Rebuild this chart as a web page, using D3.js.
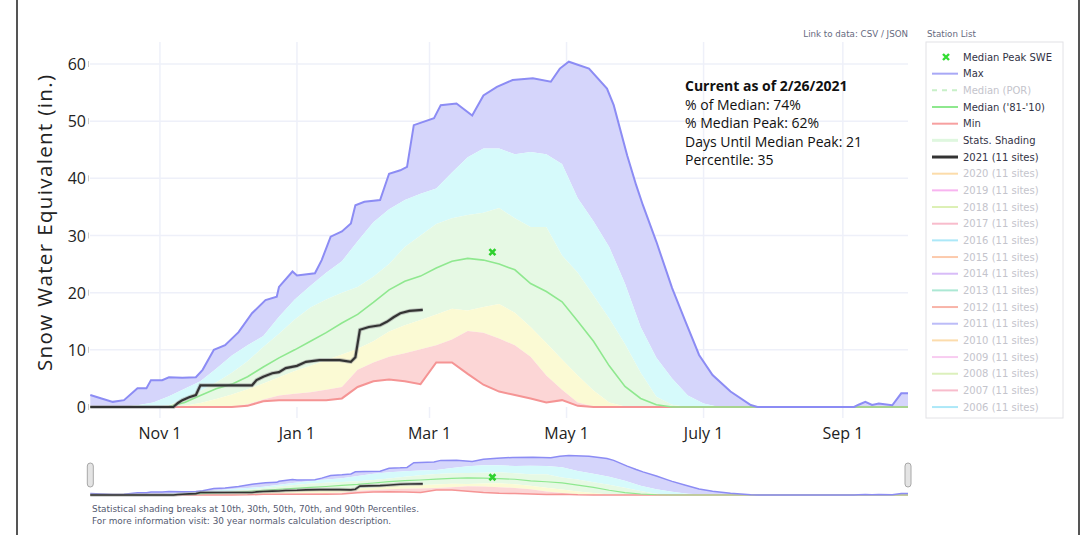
<!DOCTYPE html>
<html><head><meta charset="utf-8">
<script src="https://cdn.jsdelivr.net/npm/d3@7"></script>
<style>body{margin:0;background:#fff;} svg{display:block;}</style>
</head><body><svg id="c" width="1084" height="535"></svg>
<script>
// ---------- DATA ----------
const statDates = ["2020-10-01","2020-10-08","2020-10-15","2020-10-22","2020-10-29","2020-11-05","2020-11-12","2020-11-19","2020-11-26",
"2020-12-03","2020-12-10","2020-12-17","2020-12-24","2020-12-31","2021-01-07","2021-01-14","2021-01-21","2021-01-28",
"2021-02-04","2021-02-11","2021-02-18","2021-02-25","2021-03-04","2021-03-11","2021-03-18","2021-03-25","2021-04-01",
"2021-04-08","2021-04-15","2021-04-22","2021-04-29","2021-05-06","2021-05-13","2021-05-20","2021-05-27","2021-06-03",
"2021-06-10","2021-06-17","2021-06-24","2021-07-01","2021-07-08","2021-07-15","2021-07-22","2021-07-29","2021-08-05",
"2021-08-12","2021-08-19","2021-08-26","2021-09-02","2021-09-09","2021-09-16","2021-09-23","2021-09-30"];
const p90 = [0,0,0,0.3,0.8,1.9,3.2,4.5,6.7,9,10.8,12.4,15.8,18.8,21.2,23.5,25.5,29,32.3,34.6,36.2,37.3,38.2,41,43.7,45.2,45.2,44.2,44.6,44.2,42.5,36.5,32.5,28,21.6,14,8.6,5,2,0.6,0,0,0,0,0,0,0,0,0,0,0,0,0];
const p70 = [0,0,0,0,0,0.3,1.5,2.8,4.3,6,8,10.5,12.8,15.3,17.4,18.8,20,21,22.8,25,28,30,32,33,33.6,34,34.8,33,31.5,31.5,26.5,23.5,19.5,15.5,11,6,1.8,0.4,0,0,0,0,0,0,0,0,0,0,0,0,0,0,0];
const medianSWE = [0,0,0,0,0,0.1,0.8,2.0,3.2,4,5.3,7,8.6,10,11.5,13,14.7,16.2,18.3,20.5,22,22.9,24.3,25.5,26,25.7,25,24,21.6,20.2,18.4,15,11.5,7.2,3.6,1.5,0.4,0,0,0,0,0,0,0,0,0,0,0,0,0,0,0,0];
const p30 = [0,0,0,0,0,0,0.2,0.7,1.4,2.2,3.1,4.1,5.2,6.3,7.2,8.2,9.2,10.2,11.5,13.2,14.3,15.2,16.2,17.2,16.9,17.5,18,16.5,14,11.2,8.3,5.5,2.9,0.8,0.1,0,0,0,0,0,0,0,0,0,0,0,0,0,0,0,0,0,0];
const p10 = [0,0,0,0,0,0,0,0,0,0,0.5,1.3,2.0,2.3,2.6,3.0,3.5,6.5,7.8,8.8,9.4,10.1,10.8,11.8,13.3,13,12,10.8,8.8,5.5,3.0,0.8,0.1,0,0,0,0,0,0,0,0,0,0,0,0,0,0,0,0,0,0,0,0];
const minSWE = [0,0,0,0,0,0,0,0,0,0,0.2,1.0,1.2,1.2,1.2,1.2,1.5,3.5,4.5,4.8,4.5,4.0,7.8,7.8,5.8,3.9,2.7,2.1,1.5,0.8,1.2,0.2,0,0,0,0,0,0,0,0,0,0,0,0,0,0,0,0,0,0,0,0,0];

const maxDates = ["2020-10-01","2020-10-06","2020-10-11","2020-10-16","2020-10-22","2020-10-26","2020-10-28","2020-11-02","2020-11-05",
"2020-11-11","2020-11-17","2020-11-20","2020-11-25","2020-11-30","2020-12-06","2020-12-12","2020-12-18","2020-12-23","2020-12-24",
"2020-12-30","2021-01-01","2021-01-09","2021-01-12","2021-01-16","2021-01-21","2021-01-25","2021-01-27","2021-01-31","2021-02-07",
"2021-02-11","2021-02-16","2021-02-19","2021-02-22","2021-03-03","2021-03-06","2021-03-13","2021-03-20","2021-03-25","2021-03-31",
"2021-04-07","2021-04-16","2021-04-24","2021-04-28","2021-05-02","2021-05-11","2021-05-19","2021-05-22","2021-05-28","2021-06-01",
"2021-06-04","2021-06-10","2021-06-15","2021-06-17","2021-06-23","2021-06-29","2021-07-05","2021-07-13","2021-07-22","2021-07-25",
"2021-09-06","2021-09-08","2021-09-11","2021-09-14","2021-09-17","2021-09-23","2021-09-27","2021-09-30"];
const maxSWE = [2.1,1.5,0.9,1.2,3.3,3.3,4.7,4.7,5.2,
5.1,5.2,6.5,10,10.8,13.1,16.4,18.7,19.3,21,
23.7,23,23.4,25.7,29.8,30.7,32.1,35.3,35.9,36.2,
40.8,41.4,42,49.3,50.5,52.8,53.1,51,54.5,56,
57.2,57.5,56.9,59.2,60.4,59.2,55.7,52.8,44,38.8,
35.3,28.9,23.1,20.8,14.9,9.1,5.6,2.7,0.35,0,
0,0.4,0.9,0.35,0.6,0.3,2.4,2.4];

const dates2021 = ["2020-10-01","2020-11-07","2020-11-09","2020-11-11","2020-11-14","2020-11-17","2020-11-19","2020-12-12","2020-12-14",
"2020-12-17","2020-12-21","2020-12-24","2020-12-27","2021-01-01","2021-01-05","2021-01-11","2021-01-20","2021-01-25","2021-01-27",
"2021-01-29","2021-02-02","2021-02-07","2021-02-10","2021-02-13","2021-02-16","2021-02-20","2021-02-26"];
const swe2021 = [0,0,0.7,1.2,1.7,2.1,3.8,3.8,4.7,5.3,5.9,6.1,6.8,7.2,7.9,8.2,8.2,7.9,8.7,13.5,14,14.3,14.9,15.7,16.4,16.8,17.0];

const peakDate = "2021-03-29";
const peakSWE = 27.1;

const xTickDates = ["2020-11-01","2021-01-01","2021-03-01","2021-05-01","2021-07-01","2021-09-01"];
const xTickLabels = ["Nov 1","Jan 1","Mar 1","May 1","July 1","Sep 1"];
const yTicks = [0,10,20,30,40,50,60];

const infoLines = ["Current as of 2/26/2021","% of Median: 74%","% Median Peak: 62%","Days Until Median Peak: 21","Percentile: 35"];

const legendLabels = ["Median Peak SWE","Max","Median (POR)","Median ('81-'10)","Min","Stats. Shading","2021 (11 sites)",
"2020 (11 sites)","2019 (11 sites)","2018 (11 sites)","2017 (11 sites)","2016 (11 sites)","2015 (11 sites)","2014 (11 sites)",
"2013 (11 sites)","2012 (11 sites)","2011 (11 sites)","2010 (11 sites)","2009 (11 sites)","2008 (11 sites)","2007 (11 sites)","2006 (11 sites)"];
const legendColors = ["#33dd33","#a8a8f6","#c8f0c8","#8ee88e","#f7a0a0","#dff7df","#333333",
"#fcdcaa","#f8b4f0","#dcf0b4","#f8bccc","#ace8f8","#fccaac","#d8bcf8","#ace8d4","#f8b4a8","#bcbcf8","#fcdcac","#f8ccf0","#dcf0bc","#f8bccc","#ace8f8"];
const legendActive = [true,true,false,true,true,true,true,false,false,false,false,false,false,false,false,false,false,false,false,false,false,false];

// ---------- CHART ----------
const parse = d3.timeParse("%Y-%m-%d");
const svg = d3.select("#c");
const FONT = "'Open Sans', Roboto, sans-serif";
const SMALL = "'DejaVu Sans', Verdana, sans-serif";

const x = d3.scaleTime().domain([parse("2020-10-01"), parse("2021-09-30")]).range([90.3, 908]);
const y = d3.scaleLinear().domain([0, 60]).range([407, 64]);
const yNav = d3.scaleLinear().domain([0, 61]).range([495, 455]);

const stats = statDates.map((d, i) => ({date: parse(d), p90: p90[i], p70: p70[i], med: medianSWE[i], p30: p30[i], p10: p10[i], min: minSWE[i]}));
const maxData = maxDates.map((d, i) => ({date: parse(d), v: maxSWE[i]}));
const cur = dates2021.map((d, i) => ({date: parse(d), v: swe2021[i]}));

// frame lines
svg.append("line").attr("x1", 17).attr("x2", 17).attr("y1", 0).attr("y2", 535).attr("stroke", "#555").attr("stroke-width", 2);
svg.append("line").attr("x1", 1079).attr("x2", 1079).attr("y1", 0).attr("y2", 535).attr("stroke", "#555").attr("stroke-width", 2);

// grid
const grid = svg.append("g");
grid.selectAll("line.h").data(yTicks.filter(t => t > 0)).join("line")
  .attr("x1", 90).attr("x2", 908).attr("y1", d => y(d)).attr("y2", d => y(d))
  .attr("stroke", "#eef0f9").attr("stroke-width", 1.5);
grid.selectAll("line.v").data(xTickDates).join("line")
  .attr("x1", d => x(parse(d))).attr("x2", d => x(parse(d))).attr("y1", 42).attr("y2", 418)
  .attr("stroke", "#eef0f9").attr("stroke-width", 1.5);

function drawSeries(g, ys, lw) {
  g.append("path").datum(maxData).attr("fill", "#d5d5fb")
    .attr("d", d3.area().x(d => x(d.date)).y0(ys(0)).y1(d => ys(d.v)));
  g.append("path").datum(stats).attr("fill", "#fff")
    .attr("d", d3.area().x(d => x(d.date)).y0(ys(0)).y1(d => ys(d.p90)));
  const bands = [["p70", "p90", "#d6fafb"], ["p30", "p70", "#e6f9e4"], ["p10", "p30", "#fbfad4"], ["min", "p10", "#fcd6d6"]];
  bands.forEach(([lo, hi, col]) => {
    g.append("path").datum(stats).attr("fill", col)
      .attr("d", d3.area().x(d => x(d.date)).y0(d => ys(d[lo])).y1(d => ys(d[hi])));
  });
  const line = key => d3.line().x(d => x(d.date)).y(d => ys(d[key]));
  g.append("path").datum(stats).attr("fill", "none").attr("stroke", "#f59494").attr("stroke-width", lw).attr("d", line("min"));
  g.append("path").datum(stats).attr("fill", "none").attr("stroke", "#8fe88f").attr("stroke-width", lw * 0.8).attr("d", line("med"));
  const vl = d3.line().x(d => x(d.date)).y(d => ys(d.v));
  g.append("path").datum(maxData).attr("fill", "none").attr("stroke", "#8c8cf4").attr("stroke-width", lw).attr("d", vl);
  g.append("path").datum(cur).attr("fill", "none").attr("stroke", "#9a9a9a").attr("stroke-opacity", 0.55).attr("stroke-width", lw + 2).attr("d", vl);
  g.append("path").datum(cur).attr("fill", "none").attr("stroke", "#333").attr("stroke-width", lw * 1.1).attr("d", vl);
  const mx = x(parse(peakDate)), my = ys(peakSWE), s = 3;
  g.append("path").attr("d", `M${mx - s},${my - s}L${mx + s},${my + s}M${mx - s},${my + s}L${mx + s},${my - s}`)
    .attr("stroke", "#2fd12f").attr("stroke-width", 2.6);
}

drawSeries(svg.append("g"), y, 2);
drawSeries(svg.append("g"), yNav, 1.5);

// navigator handles
[90.3, 908].forEach(hx => {
  svg.append("rect").attr("x", hx - 3).attr("y", 463).attr("width", 6).attr("height", 24).attr("rx", 3)
    .attr("fill", "#e4e4e4").attr("stroke", "#a8a8a8").attr("stroke-width", 1);
});

// y axis labels
svg.append("g").selectAll("text").data(yTicks).join("text")
  .attr("x", 86).attr("y", d => y(d) + 6).attr("text-anchor", "end")
  .attr("font-family", FONT).attr("font-size", 16).attr("fill", "#222").text(d => d);
svg.append("g").selectAll("line").data(yTicks).join("line")
  .attr("x1", 88.5).attr("x2", 88.5).attr("y1", d => y(d) - 3).attr("y2", d => y(d) + 3)
  .attr("stroke", "#c8c8c8").attr("stroke-width", 1);

svg.append("text").attr("transform", "translate(52,223) rotate(-90)").attr("text-anchor", "middle")
  .attr("font-family", FONT).attr("font-size", 20.5).attr("fill", "#222")
  .attr("textLength", 296).attr("lengthAdjust", "spacing").text("Snow Water Equivalent (in.)");

// x axis labels
svg.append("g").selectAll("text").data(xTickDates).join("text")
  .attr("x", d => x(parse(d))).attr("y", 439).attr("text-anchor", "middle")
  .attr("font-family", FONT).attr("font-size", 16).attr("fill", "#222").text((d, i) => xTickLabels[i]);

// info box
svg.append("g").selectAll("text").data(infoLines).join("text")
  .attr("x", 685).attr("y", (d, i) => 91 + i * 18.5)
  .attr("font-family", FONT).attr("font-size", 14).attr("font-weight", (d, i) => i === 0 ? "bold" : "normal")
  .attr("fill", "#111").text(d => d);

// top small texts
svg.append("text").attr("x", 908).attr("y", 37).attr("text-anchor", "end").attr("font-family", SMALL)
  .attr("font-size", 8.7).attr("fill", "#666a80").text("Link to data: CSV / JSON");
svg.append("text").attr("x", 927).attr("y", 37).attr("font-family", SMALL)
  .attr("font-size", 8.7).attr("fill", "#666a80").text("Station List");

// legend
svg.append("rect").attr("x", 926).attr("y", 42).attr("width", 137).attr("height", 376).attr("fill", "#fff")
  .attr("stroke", "#e2e2e6").attr("stroke-width", 1);
const lg = svg.append("g").selectAll("g").data(legendLabels).join("g")
  .attr("transform", (d, i) => `translate(0,${57 + i * 16.67})`);
lg.each(function (d, i) {
  const g = d3.select(this);
  if (i === 0) {
    g.append("path").attr("d", "M943,-3L949,3M943,3L949,-3").attr("stroke", legendColors[i]).attr("stroke-width", 2.4);
  } else {
    g.append("line").attr("x1", 932).attr("x2", 958).attr("y1", 0).attr("y2", 0)
      .attr("stroke", legendColors[i]).attr("stroke-width", (i === 5 || i === 6) ? 3 : 2)
      .attr("stroke-dasharray", i === 2 ? "5,5" : null);
  }
  g.append("text").attr("x", 963).attr("y", 3.5).attr("font-family", SMALL).attr("font-size", 10)
    .attr("fill", legendActive[i] ? "#333346" : "#c4c4cc").text(d);
});

// caption
svg.append("text").attr("x", 92).attr("y", 512).attr("font-family", SMALL).attr("font-size", 8.9).attr("fill", "#555a70")
  .text("Statistical shading breaks at 10th, 30th, 50th, 70th, and 90th Percentiles.");
svg.append("text").attr("x", 92).attr("y", 524).attr("font-family", SMALL).attr("font-size", 8.9).attr("fill", "#555a70")
  .text("For more information visit: 30 year normals calculation description.");
</script></body></html>
